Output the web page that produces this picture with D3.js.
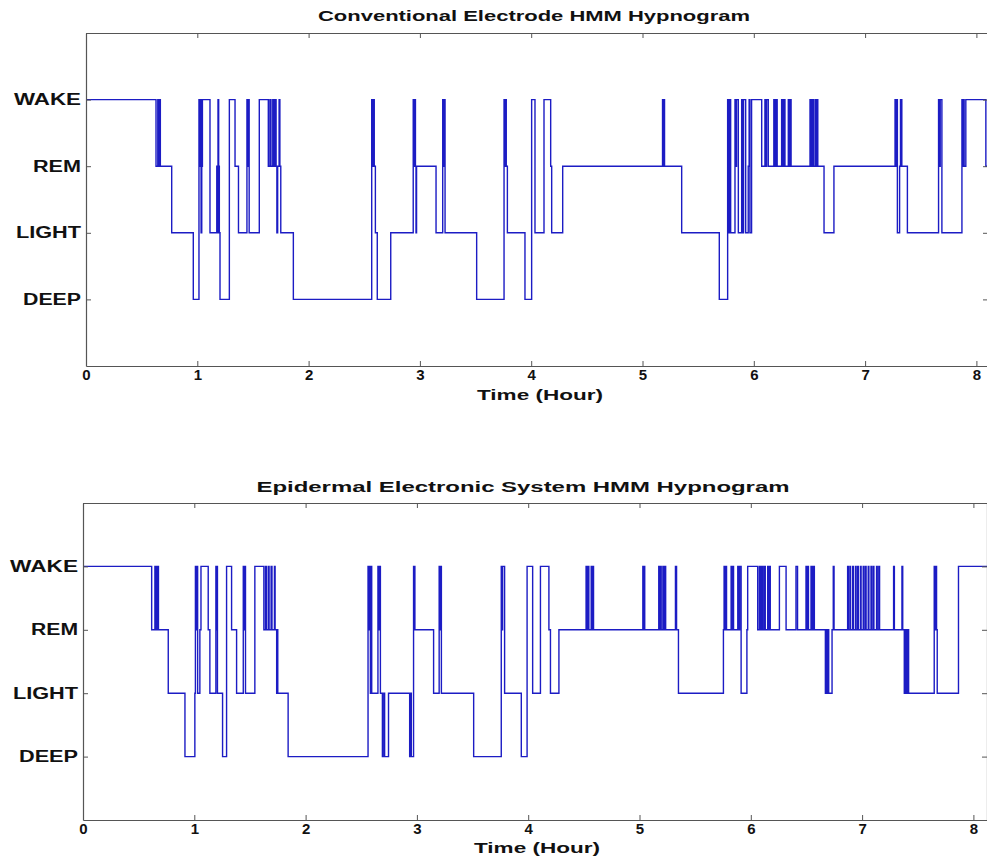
<!DOCTYPE html>
<html><head><meta charset="utf-8">
<script src="https://cdn.jsdelivr.net/npm/d3@7"></script>
<style>
body{margin:0;background:#fff;}
svg text{font-family:"Liberation Sans",Arial,sans-serif;font-weight:bold;fill:#111;}
</style></head>
<body><svg id="c" width="987" height="859"></svg>
<script>
// ---- data ----
const stageLabels = ["DEEP","LIGHT","REM","WAKE"];          // levels 1..4
const stageCode = {D:1, L:2, R:3, W:4};
const hourTicks = [0,1,2,3,4,5,6,7,8];
const titles = ["Conventional Electrode HMM Hypnogram","Epidermal Electronic System HMM Hypnogram"];
const xLabel = "Time (Hour)";
const endHour = 8.15;

// [start hour, stage] transitions
const conventional = [
[0,"W"],[0.629,"R"],[0.645,"W"],[0.652,"R"],[0.66,"W"],[0.668,"R"],[0.77,"L"],[0.964,"D"],
[1.015,"W"],[1.022,"R"],[1.028,"W"],[1.034,"L"],[1.04,"R"],[1.046,"W"],[1.114,"L"],
[1.175,"R"],[1.18,"L"],[1.186,"W"],[1.192,"R"],[1.198,"L"],[1.204,"D"],[1.288,"W"],[1.339,"R"],[1.37,"L"],
[1.446,"W"],[1.452,"R"],[1.458,"W"],[1.466,"L"],[1.557,"W"],[1.638,"R"],[1.652,"W"],[1.662,"R"],[1.678,"W"],[1.688,"R"],[1.70,"W"],[1.708,"R"],[1.715,"L"],[1.722,"R"],[1.735,"W"],[1.742,"R"],[1.75,"L"],[1.863,"D"],
[2.567,"W"],[2.575,"R"],[2.582,"W"],[2.59,"R"],[2.6,"L"],[2.617,"D"],[2.738,"L"],
[2.94,"W"],[2.947,"R"],[2.953,"W"],[2.96,"R"],[2.965,"L"],[2.97,"R"],[3.145,"L"],[3.205,"W"],[3.212,"R"],[3.218,"W"],[3.226,"L"],[3.51,"D"],
[3.756,"W"],[3.762,"R"],[3.768,"W"],[3.776,"R"],[3.786,"L"],[3.944,"D"],[4.004,"W"],[4.034,"L"],[4.115,"W"],[4.175,"R"],[4.184,"L"],[4.283,"R"],
[5.18,"W"],[5.186,"R"],[5.192,"W"],[5.198,"R"],[5.352,"L"],[5.69,"D"],
[5.765,"W"],[5.772,"L"],[5.78,"W"],[5.792,"L"],[5.831,"W"],[5.838,"R"],[5.845,"W"],[5.861,"L"],[5.891,"W"],[5.9,"L"],[5.908,"W"],[5.927,"L"],[5.95,"R"],[5.958,"W"],[5.965,"L"],[5.98,"W"],
[6.071,"R"],[6.10,"W"],[6.108,"R"],[6.115,"W"],[6.13,"R"],[6.18,"W"],[6.19,"R"],[6.2,"W"],[6.21,"R"],[6.25,"W"],[6.262,"R"],[6.27,"W"],[6.28,"R"],[6.31,"W"],[6.32,"R"],[6.326,"W"],[6.335,"R"],
[6.505,"W"],[6.515,"R"],[6.525,"W"],[6.535,"R"],[6.55,"W"],[6.56,"R"],[6.566,"W"],[6.575,"R"],[6.631,"L"],[6.72,"R"],
[7.269,"W"],[7.276,"R"],[7.282,"W"],[7.29,"L"],[7.31,"R"],[7.318,"W"],[7.33,"R"],[7.38,"L"],[7.66,"W"],[7.668,"R"],[7.675,"W"],[7.69,"L"],
[7.87,"W"],[7.876,"R"],[7.882,"W"],[7.89,"R"],[7.905,"W"],[8.085,"R"]
];

const epidermal = [
[0,"W"],[0.617,"R"],[0.646,"W"],[0.652,"R"],[0.658,"W"],[0.665,"R"],[0.672,"W"],[0.678,"R"],[0.766,"L"],[0.916,"D"],
[1.005,"L"],[1.01,"W"],[1.016,"R"],[1.022,"W"],[1.03,"L"],[1.05,"R"],[1.06,"W"],[1.125,"R"],[1.14,"L"],
[1.194,"W"],[1.198,"R"],[1.202,"W"],[1.208,"L"],[1.254,"D"],[1.29,"W"],[1.335,"R"],[1.38,"L"],
[1.44,"W"],[1.446,"R"],[1.452,"W"],[1.46,"L"],[1.544,"W"],[1.625,"R"],[1.64,"W"],[1.648,"R"],[1.665,"W"],[1.672,"R"],[1.69,"W"],[1.698,"R"],[1.72,"W"],[1.726,"R"],[1.74,"L"],[1.745,"R"],[1.75,"L"],[1.843,"D"],
[2.561,"W"],[2.567,"R"],[2.575,"W"],[2.582,"L"],[2.588,"W"],[2.594,"L"],[2.65,"W"],[2.656,"R"],[2.665,"W"],[2.672,"L"],[2.69,"D"],[2.703,"L"],[2.71,"D"],[2.745,"L"],
[2.935,"D"],[2.943,"L"],[2.95,"D"],[2.97,"W"],[2.982,"R"],[3.15,"L"],[3.20,"W"],[3.206,"R"],[3.212,"W"],[3.22,"L"],[3.51,"D"],
[3.758,"W"],[3.764,"R"],[3.77,"W"],[3.788,"L"],[3.938,"D"],[3.99,"W"],[4.04,"L"],[4.11,"W"],[4.186,"R"],[4.2,"L"],[4.276,"R"],
[4.52,"W"],[4.527,"R"],[4.533,"W"],[4.545,"R"],[4.566,"W"],[4.575,"R"],[4.582,"W"],[4.587,"R"],
[5.03,"W"],[5.037,"R"],[5.042,"W"],[5.047,"R"],[5.173,"W"],[5.18,"R"],[5.188,"W"],[5.195,"R"],[5.21,"W"],[5.22,"R"],[5.228,"W"],[5.235,"R"],[5.323,"W"],[5.333,"R"],[5.35,"L"],
[5.754,"R"],[5.76,"W"],[5.768,"R"],[5.775,"W"],[5.782,"R"],[5.823,"W"],[5.83,"R"],[5.838,"W"],[5.845,"R"],[5.883,"W"],[5.89,"R"],[5.9,"W"],[5.913,"L"],[5.965,"R"],[5.972,"W"],
[6.062,"R"],[6.077,"W"],[6.085,"R"],[6.095,"W"],[6.107,"R"],[6.12,"W"],[6.13,"R"],[6.152,"W"],[6.16,"R"],[6.168,"W"],[6.175,"R"],[6.257,"W"],[6.317,"R"],
[6.406,"W"],[6.42,"R"],[6.496,"W"],[6.503,"R"],[6.51,"W"],[6.518,"R"],[6.541,"W"],[6.55,"R"],[6.56,"W"],[6.571,"R"],
[6.67,"L"],[6.68,"R"],[6.685,"L"],[6.695,"R"],[6.7,"L"],[6.73,"R"],[6.741,"W"],[6.748,"R"],
[6.87,"W"],[6.876,"R"],[6.89,"W"],[6.896,"R"],[6.915,"W"],[6.921,"R"],[6.94,"W"],[6.946,"R"],[6.96,"W"],[6.966,"R"],[6.985,"W"],[6.991,"R"],
[7.01,"W"],[7.016,"R"],[7.03,"W"],[7.036,"R"],[7.055,"W"],[7.061,"R"],[7.08,"W"],[7.086,"R"],[7.1,"W"],[7.106,"R"],[7.13,"W"],[7.136,"R"],[7.15,"W"],[7.157,"R"],
[7.283,"W"],[7.29,"R"],[7.358,"W"],[7.365,"R"],[7.379,"L"],[7.385,"R"],[7.39,"L"],[7.398,"R"],[7.405,"L"],[7.41,"R"],[7.418,"L"],
[7.648,"W"],[7.656,"R"],[7.662,"W"],[7.669,"R"],[7.675,"L"],[7.866,"W"]
];

// ---- layout ----
const panels = [
 {data: conventional, title: titles[0], left:86, right:988, top:33, bottom:366, titleX:534, titleY:21, titleLen:432, xlabX:540, xlabY:400,
  ylabLens:[58,65,48,67]},
 {data: epidermal, title: titles[1], left:83, right:987, top:503, bottom:820, titleX:523, titleY:492, titleLen:533, xlabX:537, xlabY:853,
  ylabLens:[59,65,47,68]}
];

const svg = d3.select("#c");
const axisColor = "#555";

panels.forEach((p, i) => {
  const x = d3.scaleLinear().domain([0, (p.right - p.left) / 111.3]).range([p.left, p.right]);
  const y = d3.scaleLinear().domain([0, 5]).range([p.bottom, p.top]);
  const g = svg.append("g");

  g.append("clipPath").attr("id", "clip" + i).append("rect")
    .attr("x", p.left).attr("y", p.top).attr("width", p.right - p.left).attr("height", p.bottom - p.top);

  // step line
  const pts = p.data.map(d => [d[0], stageCode[d[1]]]);
  pts.push([endHour, pts[pts.length - 1][1]]);
  const line = d3.line().x(d => x(d[0])).y(d => y(d[1])).curve(d3.curveStepAfter);
  g.append("path").attr("clip-path", `url(#clip${i})`)
    .attr("d", line(pts)).attr("fill", "none")
    .attr("stroke", "#1c1cc4").attr("stroke-width", 1.4);

  // axes (ticks inward, MATLAB box style)
  const xb = g.append("g").attr("transform", `translate(0,${p.bottom})`)
    .call(d3.axisBottom(x).tickValues(hourTicks).tickFormat(d3.format("d")).tickSizeInner(-5).tickSizeOuter(0).tickPadding(3));
  const xt = g.append("g").attr("transform", `translate(0,${p.top})`)
    .call(d3.axisTop(x).tickValues(hourTicks).tickFormat("").tickSizeInner(-5).tickSizeOuter(0));
  const yl = g.append("g").attr("transform", `translate(${p.left},0)`)
    .call(d3.axisLeft(y).tickValues([1,2,3,4]).tickFormat(d => stageLabels[d - 1]).tickSizeInner(-5).tickSizeOuter(0).tickPadding(5));
  const yr = g.append("g").attr("transform", `translate(${p.right},0)`)
    .call(d3.axisRight(y).tickValues([1,2,3,4]).tickFormat("").tickSizeInner(-5).tickSizeOuter(0));
  [xb, xt, yl, yr].forEach(a => {
    a.select(".domain").attr("stroke", axisColor).attr("stroke-width", 1.2);
    a.selectAll(".tick line").attr("stroke", axisColor);
  });
  xb.selectAll("text").attr("font-size", 15).attr("fill", "#111").style("font-family", '"Liberation Sans",Arial,sans-serif');
  yl.selectAll("text").attr("font-size", 16).attr("fill", "#111").style("font-family", '"Liberation Sans",Arial,sans-serif')
    .attr("textLength", d => p.ylabLens[d - 1]).attr("lengthAdjust", "spacingAndGlyphs");

  // title
  g.append("text").attr("x", p.titleX).attr("y", p.titleY).attr("text-anchor", "middle")
    .attr("font-size", 14).attr("textLength", p.titleLen).attr("lengthAdjust", "spacingAndGlyphs").text(p.title);
  // x label
  g.append("text").attr("x", p.xlabX).attr("y", p.xlabY).attr("text-anchor", "middle")
    .attr("font-size", 15).attr("textLength", 126).attr("lengthAdjust", "spacingAndGlyphs").text(xLabel);
});
</script></body></html>
